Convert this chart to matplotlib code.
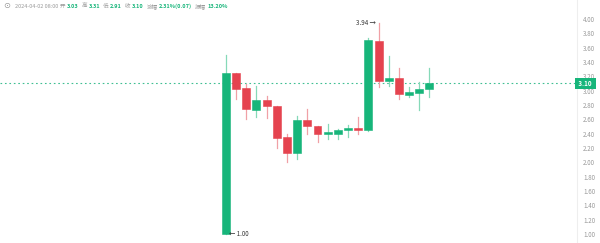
import matplotlib.pyplot as plt
import matplotlib.transforms as mtransforms
import numpy as np

plt.rcParams['font.family'] = ['Noto Sans CJK SC', 'DejaVu Sans']

opens = [1.00, 3.25, 3.04, 2.73, 2.87, 2.79, 2.36, 2.13, 2.59, 2.50, 2.40,
         2.40, 2.45, 2.47, 2.45, 3.69, 3.14, 3.17, 2.94, 2.97, 3.03]
closes = [3.25, 3.03, 2.74, 2.87, 2.79, 2.34, 2.13, 2.59, 2.50, 2.40, 2.41,
          2.45, 2.47, 2.45, 3.70, 3.14, 3.17, 2.95, 2.98, 3.03, 3.10]
highs = [3.50, 3.25, 3.09, 3.07, 2.93, 2.79, 2.39, 2.64, 2.75, 2.51, 2.54,
         2.46, 2.52, 2.63, 3.73, 3.94, 3.49, 3.31, 3.05, 3.12, 3.31]
lows = [1.00, 2.88, 2.60, 2.63, 2.62, 2.20, 2.00, 2.05, 2.39, 2.28, 2.33,
        2.32, 2.36, 2.39, 2.43, 3.05, 3.06, 2.89, 2.91, 2.73, 2.91]

last_price = 3.10
yticks = [1.0, 1.2, 1.4, 1.6, 1.8, 2.0, 2.2, 2.4, 2.6, 2.8, 3.0, 3.2, 3.4, 3.6, 3.8, 4.0]

header = [("2024-04-02 08:00", "grey"), ("开", "grey"), ("3.03", "val"),
          ("高", "grey"), ("3.31", "val"), ("低", "grey"), ("2.91", "val"),
          ("收", "grey"), ("3.10", "val"), ("涨幅", "grey"), ("2.31%(0.07)", "val"),
          ("振幅", "grey"), ("13.20%", "val")]

green = '#17b57a'
red = '#e5434f'
green_w = '#86d9b8'
red_w = '#f0a0a6'

fig = plt.figure(figsize=(6, 2.43), dpi=100)
ax = fig.add_axes([0, 0, 577 / 600, 1])

x = np.arange(len(opens))
for i in x:
    o, c, h, l = opens[i], closes[i], highs[i], lows[i]
    up = c >= o
    col = green if up else red
    wcol = green_w if up else red_w
    ax.plot([i, i], [l, h], color=wcol, lw=0.9, zorder=2)
    bottom = min(o, c)
    height = max(abs(c - o), 0.025)
    ax.bar(i, height, bottom=bottom, width=0.78, color=col, edgecolor=col,
           lw=0.4, zorder=3)

ax.axhline(last_price, color='#3fbf92', lw=0.8, ls=(0, (1.5, 2.5)), zorder=1)

# high / low markers
hi_i = int(np.argmax(highs))
lo_i = int(np.argmin(lows))
ax.annotate("3.94 →", (hi_i, highs[hi_i]), xytext=(-2, 0), textcoords='offset points',
            ha='right', va='center', fontsize=4.5, color='#333333')
ax.annotate("← 1.00", (lo_i, lows[lo_i]), xytext=(2, 0), textcoords='offset points',
            ha='left', va='center', fontsize=4.5, color='#333333')

ax.set_xlim(-22.2, 34.5)
ax.set_ylim(0.874, 4.265)

ax.yaxis.tick_right()
ax.set_yticks(yticks)
ax.set_yticklabels([f"{t:.2f}" for t in yticks], fontsize=4.5, color='#999999')
ax.tick_params(axis='y', length=0, pad=4.5)
ax.set_xticks([])
for s in ['top', 'left', 'bottom']:
    ax.spines[s].set_visible(False)
ax.spines['right'].set_color('#eeeeee')
ax.spines['right'].set_linewidth(0.8)

trans = mtransforms.blended_transform_factory(ax.transAxes, ax.transData)
ax.text(1.0, last_price, " 3.10  ", transform=trans, ha='left', va='center',
        fontsize=4.5, color='white', fontweight='bold', clip_on=False,
        bbox=dict(boxstyle='square,pad=0.25', fc=green, ec='none'), zorder=5)

# header line, laid out piece by piece
fig.text(3 / 600, 1 - 6 / 243, "⊙", fontsize=6, color='#999999', va='center',
         family='DejaVu Sans')
renderer = fig.canvas.get_renderer()
px = 15
for k, (txt, kind) in enumerate(header):
    t = fig.text(px / 600, 1 - 6 / 243, txt, fontsize=4, va='center',
                 color='#9a9a9a' if kind == "grey" else green,
                 fontweight='normal' if kind == "grey" else 'bold')
    w = t.get_window_extent(renderer).width
    px += w + (1.5 if kind == "grey" else 3)

fig.savefig('out.png', dpi=100, facecolor='white')
